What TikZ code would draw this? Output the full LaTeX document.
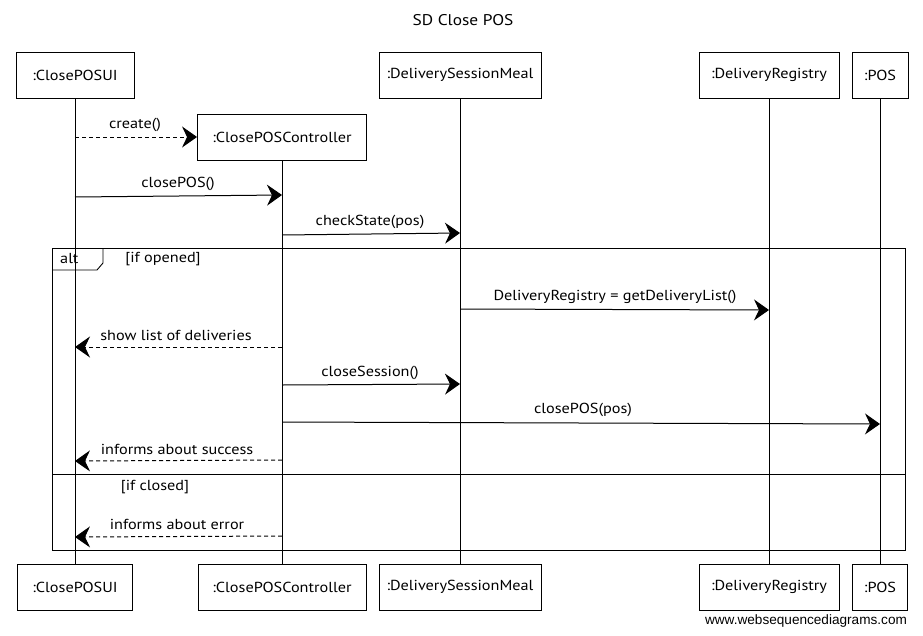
\documentclass[tikz,border=0pt]{standalone}
\usepackage{fontspec}
\setmainfont{PT Sans}[FakeStretch=1.12]
\newfontfamily\wmfont{Liberation Sans}
\usetikzlibrary{arrows.meta,calc}
\begin{document}
\begin{tikzpicture}[x=1pt,y=-1pt,
  part/.style={draw, line width=0.9pt, minimum height=46pt, inner sep=0pt,
    font=\fontsize{14.5}{16}\selectfont, fill=white},
  life/.style={line width=0.8pt},
  msg/.style={line width=1pt, -{Stealth[length=15pt,width=21pt,inset=5pt]}},
  ret/.style={msg, dash pattern=on 4pt off 3pt},
  lbl/.style={font=\fontsize{14.5}{16}\selectfont, inner sep=0pt},
  frm/.style={line width=0.9pt}]
\useasboundingbox (0,0) rectangle (923,635);

% title
\node[font=\fontsize{15.5}{17}\selectfont] (title) at (463,20) {SD Close POS};

% participants (head and foot boxes)
\node[part, minimum width=118pt] (uiT)  at (75,75)  {:ClosePOSUI};
\node[part, minimum width=169pt] (ctlT) at (282,137) {:ClosePOSController};
\node[part, minimum width=162pt] (dsmT) at (460,75) {:DeliverySessionMeal};
\node[part, minimum width=140pt] (drT)  at (769,75) {:DeliveryRegistry};
\node[part, minimum width=56pt]  (posT) at (880,75) {:POS};

\node[part, minimum width=115pt] (uiB)  at (75,587)  {:ClosePOSUI};
\node[part, minimum width=168pt] (ctlB) at (282,587) {:ClosePOSController};
\node[part, minimum width=162pt] (dsmB) at (460,587) {:DeliverySessionMeal};
\node[part, minimum width=140pt] (drB)  at (769,587) {:DeliveryRegistry};
\node[part, minimum width=55pt]  (posB) at (880,587) {:POS};

% lifelines
\foreach \p in {ui,ctl,dsm,dr,pos}
  \draw[life] (\p T) -- (\p B);

% alt frame
\draw[frm] (52,248) rectangle (905,550);
\draw[frm] (52,270) -- (97,270) -- (103,263) -- (103,248);
\draw[frm] (52,474) -- (905,474);
\node[lbl, anchor=west] (altlbl) at (60,259) {alt};
\node[lbl] (g1) at (163,259) {[if opened]};
\node[lbl] (g2) at (155,487) {[if closed]};

% messages
\draw[ret] (uiT |- 0,137) -- (ctlT.west);
\node[lbl] (m1) at (135,125) {create()};

\draw[msg] (uiT |- 0,197) -- (ctlT |- 0,195);
\node[lbl] (m2) at (178,184) {closePOS()};

\draw[msg] (ctlT |- 0,235) -- (dsmT |- 0,233);
\node[lbl] (m3) at (370,222) {checkState(pos)};

\draw[msg] (dsmT |- 0,309) -- (drT |- 0,310);
\node[lbl] (m4) at (615,297) {DeliveryRegistry = getDeliveryList()};

\draw[ret] (ctlT |- 0,347) -- (uiT |- 0,347);
\node[lbl] (m5) at (176,335) {show list of deliveries};

\draw[msg] (ctlT |- 0,385) -- (dsmT |- 0,384);
\node[lbl] (m6) at (370,373) {closeSession()};

\draw[msg] (ctlT |- 0,422) -- (posT |- 0,424);
\node[lbl] (m7) at (583,410) {closePOS(pos)};

\draw[ret] (ctlT |- 0,460) -- (uiT |- 0,461);
\node[lbl] (m8) at (177,449) {informs about success};

\draw[ret] (ctlT |- 0,536) -- (uiT |- 0,537);
\node[lbl] (m9) at (177,524) {informs about error};

% watermark
\node[font=\fontsize{13.6}{15}\selectfont\wmfont] (wm) at (806,621) {www.websequencediagrams.com};
\end{tikzpicture}
\end{document}
